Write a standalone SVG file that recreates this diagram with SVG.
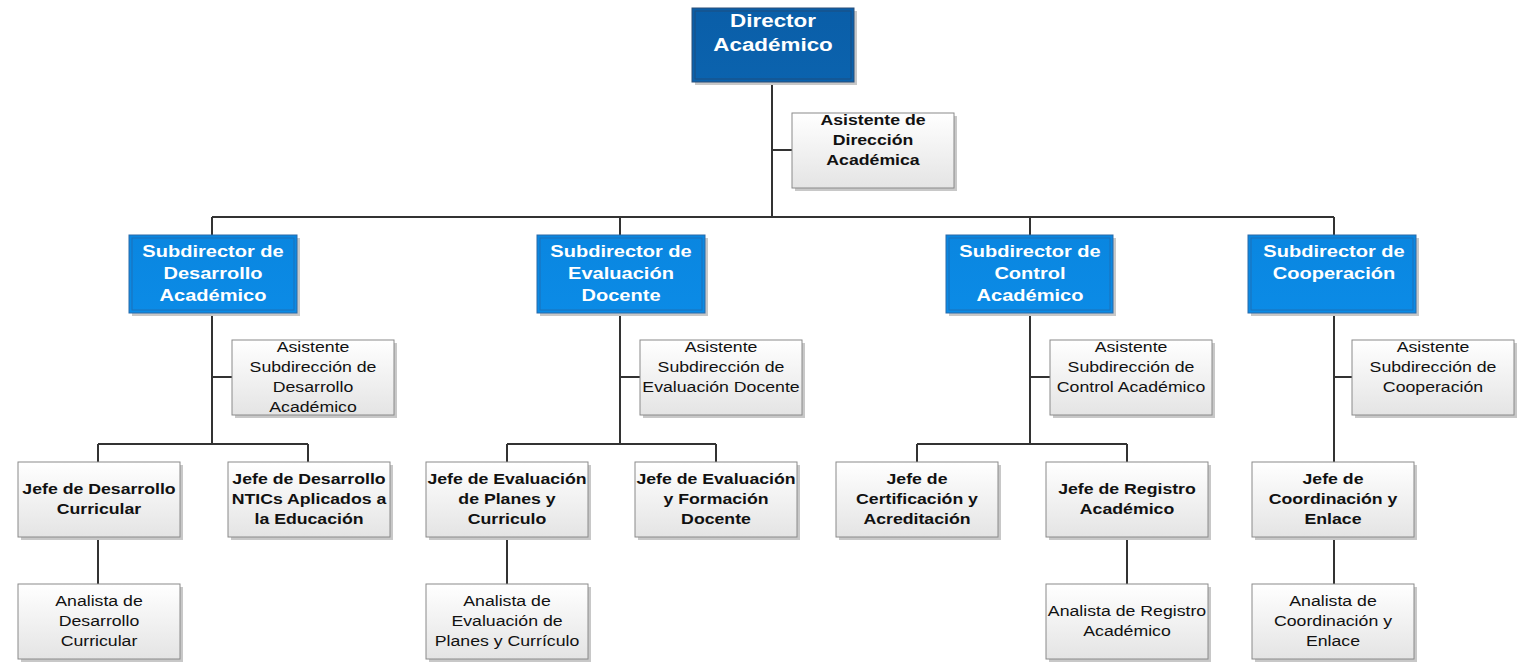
<svg xmlns="http://www.w3.org/2000/svg" width="1522" height="670" viewBox="0 0 1522 670">
<defs>
<linearGradient id="gGray" x1="0" y1="0" x2="0" y2="1"><stop offset="0" stop-color="#ffffff"/><stop offset="1" stop-color="#e4e4e4"/></linearGradient>
<linearGradient id="gDark" x1="0" y1="0" x2="0" y2="1"><stop offset="0" stop-color="#0a5ea8"/><stop offset="1" stop-color="#0b63ae"/></linearGradient>
<linearGradient id="gBlue" x1="0" y1="0" x2="0" y2="1"><stop offset="0" stop-color="#0a86e0"/><stop offset="1" stop-color="#0b8be6"/></linearGradient>
<style>
.sh{fill:#c8c8c8}
.gray{fill:url(#gGray);stroke:#8a8a8a;stroke-width:1}
.dark{fill:url(#gDark);stroke:#2a4f78;stroke-width:1}
.blue{fill:url(#gBlue);stroke:#2a6aa8;stroke-width:1}
.inD{fill:none;stroke:#1d4f80;stroke-width:1}
.inB{fill:none;stroke:#1d70b8;stroke-width:1}
.wt{font-family:"Liberation Sans",Arial,sans-serif;font-weight:bold;fill:#ffffff;text-anchor:middle}
.bt{font-family:"Liberation Sans",Arial,sans-serif;font-weight:bold;font-size:15px;fill:#111;text-anchor:middle}
.nt{font-family:"Liberation Sans",Arial,sans-serif;font-size:15px;fill:#111;text-anchor:middle}
.ln{fill:none;stroke:#333;stroke-width:2}
</style>
</defs>
<rect width="1522" height="670" fill="#ffffff"/>
<g id="connectors">
<path class="ln" d="M772 82V217M772 150H792M212 217H1334M212 217V235M620 217V235M1030 217V235M1334 217V235"/>
<path class="ln" d="M212 313V444M212 377H232M98 444H308M98 444V462M308 444V462M98 537V584"/>
<path class="ln" d="M620 313V444M620 377H640M507 444H716M507 444V462M716 444V462M507 537V584"/>
<path class="ln" d="M1030 313V444M1030 377H1050M917 444H1127M917 444V462M1127 444V462M1127 537V584"/>
<path class="ln" d="M1334 313V462M1334 377H1352M1334 537V584"/>
</g>
<g id="director">
<rect class="sh" x="695" y="11" width="162" height="74"/>
<rect class="dark" x="692" y="8" width="162" height="74"/>
<rect class="inD" x="695" y="11" width="156" height="68"/>
<g transform="translate(773 0) scale(1.18 1)">
<text class="wt" font-size="19" x="0" y="27">Director</text>
<text class="wt" font-size="19" x="0" y="51">Académico</text>
</g>
</g>
<g id="asis-dir">
<rect class="sh" x="795" y="116" width="162" height="75"/>
<rect class="gray" x="792" y="113" width="162" height="75"/>
<g transform="translate(873 0) scale(1.18 1)">
<text class="bt" x="0" y="125">Asistente de</text>
<text class="bt" x="0" y="145">Dirección</text>
<text class="bt" x="0" y="165">Académica</text>
</g>
</g>
<g id="sub-des">
<rect class="sh" x="132" y="238" width="168" height="78"/>
<rect class="blue" x="129" y="235" width="168" height="78"/>
<rect class="inB" x="132" y="238" width="162" height="72"/>
<g transform="translate(213 0) scale(1.18 1)">
<text class="wt" font-size="17" x="0" y="257">Subdirector de</text>
<text class="wt" font-size="17" x="0" y="279">Desarrollo</text>
<text class="wt" font-size="17" x="0" y="301">Académico</text>
</g>
</g>
<g id="sub-eva">
<rect class="sh" x="540" y="238" width="168" height="78"/>
<rect class="blue" x="537" y="235" width="168" height="78"/>
<rect class="inB" x="540" y="238" width="162" height="72"/>
<g transform="translate(621 0) scale(1.18 1)">
<text class="wt" font-size="17" x="0" y="257">Subdirector de</text>
<text class="wt" font-size="17" x="0" y="279">Evaluación</text>
<text class="wt" font-size="17" x="0" y="301">Docente</text>
</g>
</g>
<g id="sub-con">
<rect class="sh" x="949" y="238" width="167" height="78"/>
<rect class="blue" x="946" y="235" width="167" height="78"/>
<rect class="inB" x="949" y="238" width="161" height="72"/>
<g transform="translate(1030 0) scale(1.18 1)">
<text class="wt" font-size="17" x="0" y="257">Subdirector de</text>
<text class="wt" font-size="17" x="0" y="279">Control</text>
<text class="wt" font-size="17" x="0" y="301">Académico</text>
</g>
</g>
<g id="sub-coo">
<rect class="sh" x="1251" y="238" width="168" height="78"/>
<rect class="blue" x="1248" y="235" width="168" height="78"/>
<rect class="inB" x="1251" y="238" width="162" height="72"/>
<g transform="translate(1334 0) scale(1.18 1)">
<text class="wt" font-size="17" x="0" y="257">Subdirector de</text>
<text class="wt" font-size="17" x="0" y="279">Cooperación</text>
</g>
</g>
<g id="asis-des">
<rect class="sh" x="235" y="343" width="162" height="75"/>
<rect class="gray" x="232" y="340" width="162" height="75"/>
<g transform="translate(313 0) scale(1.18 1)">
<text class="nt" x="0" y="352">Asistente</text>
<text class="nt" x="0" y="372">Subdirección de</text>
<text class="nt" x="0" y="392">Desarrollo</text>
<text class="nt" x="0" y="412">Académico</text>
</g>
</g>
<g id="asis-eva">
<rect class="sh" x="643" y="343" width="162" height="75"/>
<rect class="gray" x="640" y="340" width="162" height="75"/>
<g transform="translate(721 0) scale(1.18 1)">
<text class="nt" x="0" y="352">Asistente</text>
<text class="nt" x="0" y="372">Subdirección de</text>
<text class="nt" x="0" y="392">Evaluación Docente</text>
</g>
</g>
<g id="asis-con">
<rect class="sh" x="1053" y="343" width="162" height="75"/>
<rect class="gray" x="1050" y="340" width="162" height="75"/>
<g transform="translate(1131 0) scale(1.18 1)">
<text class="nt" x="0" y="352">Asistente</text>
<text class="nt" x="0" y="372">Subdirección de</text>
<text class="nt" x="0" y="392">Control Académico</text>
</g>
</g>
<g id="asis-coo">
<rect class="sh" x="1355" y="343" width="162" height="75"/>
<rect class="gray" x="1352" y="340" width="162" height="75"/>
<g transform="translate(1433 0) scale(1.18 1)">
<text class="nt" x="0" y="352">Asistente</text>
<text class="nt" x="0" y="372">Subdirección de</text>
<text class="nt" x="0" y="392">Cooperación</text>
</g>
</g>
<g id="jefe-dc">
<rect class="sh" x="21" y="465" width="162" height="75"/>
<rect class="gray" x="18" y="462" width="162" height="75"/>
<g transform="translate(99 0) scale(1.18 1)">
<text class="bt" x="0" y="494">Jefe de Desarrollo</text>
<text class="bt" x="0" y="514">Curricular</text>
</g>
</g>
<g id="jefe-ntic">
<rect class="sh" x="231" y="465" width="162" height="75"/>
<rect class="gray" x="228" y="462" width="162" height="75"/>
<g transform="translate(309 0) scale(1.18 1)">
<text class="bt" x="0" y="484">Jefe de Desarrollo</text>
<text class="bt" x="0" y="504">NTICs Aplicados a</text>
<text class="bt" x="0" y="524">la Educación</text>
</g>
</g>
<g id="jefe-epc">
<rect class="sh" x="429" y="465" width="162" height="75"/>
<rect class="gray" x="426" y="462" width="162" height="75"/>
<g transform="translate(507 0) scale(1.18 1)">
<text class="bt" x="0" y="484">Jefe de Evaluación</text>
<text class="bt" x="0" y="504">de Planes y</text>
<text class="bt" x="0" y="524">Curriculo</text>
</g>
</g>
<g id="jefe-efd">
<rect class="sh" x="638" y="465" width="162" height="75"/>
<rect class="gray" x="635" y="462" width="162" height="75"/>
<g transform="translate(716 0) scale(1.18 1)">
<text class="bt" x="0" y="484">Jefe de Evaluación</text>
<text class="bt" x="0" y="504">y Formación</text>
<text class="bt" x="0" y="524">Docente</text>
</g>
</g>
<g id="jefe-cert">
<rect class="sh" x="839" y="465" width="162" height="75"/>
<rect class="gray" x="836" y="462" width="162" height="75"/>
<g transform="translate(917 0) scale(1.18 1)">
<text class="bt" x="0" y="484">Jefe de</text>
<text class="bt" x="0" y="504">Certificación y</text>
<text class="bt" x="0" y="524">Acreditación</text>
</g>
</g>
<g id="jefe-reg">
<rect class="sh" x="1049" y="465" width="162" height="75"/>
<rect class="gray" x="1046" y="462" width="162" height="75"/>
<g transform="translate(1127 0) scale(1.18 1)">
<text class="bt" x="0" y="494">Jefe de Registro</text>
<text class="bt" x="0" y="514">Académico</text>
</g>
</g>
<g id="jefe-coo">
<rect class="sh" x="1255" y="465" width="162" height="75"/>
<rect class="gray" x="1252" y="462" width="162" height="75"/>
<g transform="translate(1333 0) scale(1.18 1)">
<text class="bt" x="0" y="484">Jefe de</text>
<text class="bt" x="0" y="504">Coordinación y</text>
<text class="bt" x="0" y="524">Enlace</text>
</g>
</g>
<g id="ana-dc">
<rect class="sh" x="21" y="587" width="162" height="75"/>
<rect class="gray" x="18" y="584" width="162" height="75"/>
<g transform="translate(99 0) scale(1.18 1)">
<text class="nt" x="0" y="606">Analista de</text>
<text class="nt" x="0" y="626">Desarrollo</text>
<text class="nt" x="0" y="646">Curricular</text>
</g>
</g>
<g id="ana-epc">
<rect class="sh" x="429" y="587" width="162" height="75"/>
<rect class="gray" x="426" y="584" width="162" height="75"/>
<g transform="translate(507 0) scale(1.18 1)">
<text class="nt" x="0" y="606">Analista de</text>
<text class="nt" x="0" y="626">Evaluación de</text>
<text class="nt" x="0" y="646">Planes y Currículo</text>
</g>
</g>
<g id="ana-reg">
<rect class="sh" x="1049" y="587" width="162" height="75"/>
<rect class="gray" x="1046" y="584" width="162" height="75"/>
<g transform="translate(1127 0) scale(1.18 1)">
<text class="nt" x="0" y="616">Analista de Registro</text>
<text class="nt" x="0" y="636">Académico</text>
</g>
</g>
<g id="ana-coo">
<rect class="sh" x="1255" y="587" width="162" height="75"/>
<rect class="gray" x="1252" y="584" width="162" height="75"/>
<g transform="translate(1333 0) scale(1.18 1)">
<text class="nt" x="0" y="606">Analista de</text>
<text class="nt" x="0" y="626">Coordinación y</text>
<text class="nt" x="0" y="646">Enlace</text>
</g>
</g>
</svg>
